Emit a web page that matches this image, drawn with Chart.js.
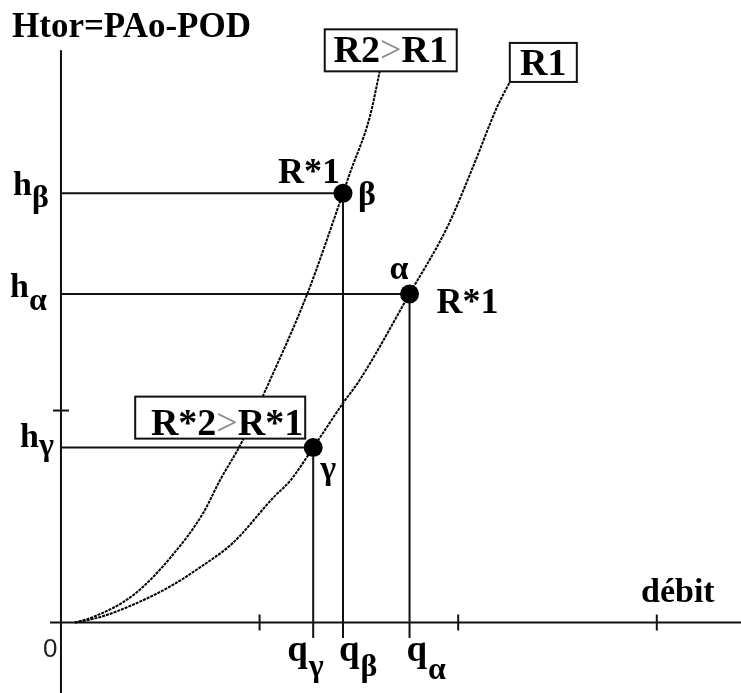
<!DOCTYPE html>
<html><head><meta charset="utf-8">
<script src="https://cdn.jsdelivr.net/npm/chart.js@4/dist/chart.umd.min.js"></script>
<style>html,body{margin:0;padding:0;background:#fff;}#c{display:block;}</style>
</head><body>
<canvas id="c" width="741" height="693"></canvas>
<script>
// ---- data (débit on x, Htor on y, arbitrary units) ----
const curveR1X = [0.14, 0.39, 0.73, 1.10, 1.40, 1.73, 2.14, 2.31, 2.54, 2.84, 3.01, 3.51, 3.89, 4.15, 4.39, 4.52];
const curveR1Y = [0.00, 0.05, 0.17, 0.34, 0.52, 0.75, 1.18, 1.34, 1.65, 2.07, 2.29, 3.10, 3.73, 4.30, 4.86, 5.10];
const curveR2X = [0.14, 0.32, 0.73, 1.10, 1.43, 1.60, 1.82, 2.03, 2.48, 2.84, 2.91, 3.11, 3.21];
const curveR2Y = [0.00, 0.05, 0.26, 0.61, 1.03, 1.34, 1.70, 2.13, 3.10, 4.05, 4.24, 4.77, 5.20];
const pointNames = ['α', 'β', 'γ'];
const pointQ = [3.51, 2.84, 2.54];
const pointH = [3.10, 4.05, 1.65];
const xTicks = [2, 4, 6];
const yTicks = [2];
const xRange = [-0.614, 6.848];
const yRange = [-0.665, 5.873];
const axisStart = [-0.11, 5.40];   // x-axis begins left of 0, y-axis top
const dropTo = -0.147;            // guide lines drop below axis

const pts = (xs, ys) => xs.map((x, i) => ({x, y: ys[i]}));
const ink = '#111';

const datasets = [];
// dots
datasets.push({type: 'scatter', data: pts(pointQ, pointH), pointRadius: 9.5, pointHoverRadius: 9.5,
  backgroundColor: '#000', borderWidth: 0, order: 0});
// guides
pointQ.forEach((q, i) => {
  datasets.push({type: 'line', data: [{x: 0, y: pointH[i]}, {x: q, y: pointH[i]}, {x: q, y: dropTo}],
    borderColor: ink, borderWidth: 2, pointRadius: 0, tension: 0, order: 2});
});
// curves
[[curveR1X, curveR1Y], [curveR2X, curveR2Y]].forEach(([xs, ys]) => {
  datasets.push({type: 'line', data: pts(xs, ys), borderColor: '#000', borderWidth: 2,
    borderDash: [3, 1], pointRadius: 0, cubicInterpolationMode: 'monotone', order: 3});
});
// axes
datasets.push({type: 'line', data: [{x: 0, y: axisStart[1]}, {x: 0, y: yRange[0]}],
  borderColor: ink, borderWidth: 2, pointRadius: 0, order: 4});
datasets.push({type: 'line', data: [{x: axisStart[0], y: 0}, {x: xRange[1], y: 0}],
  borderColor: ink, borderWidth: 2, pointRadius: 0, order: 4});

const SERIF = '"Liberation Serif", "Times New Roman", serif';

const labelPlugin = {
  id: 'labels',
  afterDatasetsDraw(chart) {
    const ctx = chart.ctx;
    const xs = chart.scales.x, ys = chart.scales.y;
    const X = v => xs.getPixelForValue(v), Y = v => ys.getPixelForValue(v);
    const x0 = X(0), y0 = Y(0);
    ctx.save();
    ctx.fillStyle = '#000';
    ctx.textBaseline = 'alphabetic';
    ctx.strokeStyle = ink;
    ctx.lineWidth = 2;
    // ticks
    xTicks.forEach(t => { ctx.beginPath(); ctx.moveTo(X(t), y0 - 8); ctx.lineTo(X(t), y0 + 8); ctx.stroke(); });
    yTicks.forEach(t => { ctx.beginPath(); ctx.moveTo(x0 - 8, Y(t)); ctx.lineTo(x0 + 8, Y(t)); ctx.stroke(); });

    const txt = (s, x, y, size, opts = {}) => {
      ctx.font = (opts.normal ? '' : 'bold ') + size + 'px ' + (opts.family || SERIF);
      ctx.fillStyle = opts.color || '#000';
      ctx.textAlign = opts.align || 'left';
      ctx.fillText(s, x, y);
      return ctx.measureText(s).width;
    };
    const run = (segs, x, y, size) => {
      let cx = x;
      segs.forEach(([s, grey]) => {
        cx += txt(s, cx, y, size, grey ? {normal: true, color: '#8a8a8a'} : {});
      });
      return cx - x;
    };
    const measureRun = (segs, size) => {
      let w = 0;
      segs.forEach(([s, grey]) => {
        ctx.font = (grey ? '' : 'bold ') + size + 'px ' + SERIF;
        w += ctx.measureText(s).width;
      });
      return w;
    };
    const box = (l, t, r, b) => {
      ctx.fillStyle = '#fff'; ctx.fillRect(l, t, r - l, b - t);
      ctx.strokeStyle = ink; ctx.lineWidth = 2; ctx.strokeRect(l, t, r - l, b - t);
    };

    // title
    txt('Htor=PAo-POD', 12, 37, 35);
    // x label
    txt('débit', 641, 602, 34);
    // origin
    txt('0', x0 - 18, y0 + 34, 26, {normal: true, family: '"Liberation Sans", Arial, sans-serif', color: '#222'});

    // y labels h_* and x labels q_*
    const hOff = {'α': [-51, 3, 13], 'β': [-48, 2, 12], 'γ': [-41, -1, 8]};
    const qOff = {'α': [-3, 18], 'β': [-4, 15], 'γ': [-26, 15]};
    pointNames.forEach((n, i) => {
      const py = Y(pointH[i]), px = X(pointQ[i]);
      const o = hOff[n];
      const w = txt('h', x0 + o[0], py + o[1], 34);
      txt(n, x0 + o[0] + w, py + o[1] + o[2], 32);
      const q = qOff[n];
      const wq = txt('q', px + q[0], y0 + 38, 37);
      txt(n, px + q[0] + wq + 1, y0 + 38 + q[1], 32);
    });

    // point annotations
    const pa = {x: X(pointQ[0]), y: Y(pointH[0])};
    const pb = {x: X(pointQ[1]), y: Y(pointH[1])};
    const pg = {x: X(pointQ[2]), y: Y(pointH[2])};
    txt('R*1', pb.x - 3, pb.y - 10, 36, {align: 'right'});
    txt('β', pb.x + 15, pb.y + 12, 34);
    txt('α', pa.x - 20, pa.y - 15, 34);
    txt('R*1', pa.x + 27, pa.y + 19, 36);
    txt('γ', pg.x + 7, pg.y + 31, 34);

    // box R*2>R*1
    const segsG = [['R*2'], ['>', true], ['R*1']];
    const wG = measureRun(segsG, 38);
    box(pg.x - 178, pg.y - 51, pg.x - 8, pg.y - 9);
    run(segsG, pg.x - 10 - wG, pg.y - 13, 38);

    // curve end boxes
    const e1 = {x: X(curveR1X[curveR1X.length - 1]), y: Y(curveR1Y[curveR1Y.length - 1])};
    const e2 = {x: X(curveR2X[curveR2X.length - 1]), y: Y(curveR2Y[curveR2Y.length - 1])};
    const segs2 = [['R2'], ['>', true], ['R1']];
    const w2 = measureRun(segs2, 38);
    box(e2.x - 55, e2.y - 42, e2.x + 77, e2.y);
    run(segs2, e2.x - 55 + (132 - w2) / 2, e2.y - 9, 38);
    const segs1 = [['R1']];
    const w1 = measureRun(segs1, 38);
    box(e1.x, e1.y - 39, e1.x + 67, e1.y);
    run(segs1, e1.x + (67 - w1) / 2, e1.y - 7, 38);
    ctx.restore();
  }
};

new Chart(document.getElementById('c'), {
  data: {datasets},
  options: {
    responsive: false, animation: false, devicePixelRatio: 1,
    layout: {padding: 0, autoPadding: false},
    plugins: {legend: {display: false}, tooltip: {enabled: false}, title: {display: false}},
    events: [],
    scales: {
      x: {type: 'linear', display: false, min: xRange[0], max: xRange[1]},
      y: {type: 'linear', display: false, min: yRange[0], max: yRange[1]}
    }
  },
  plugins: [labelPlugin]
});
</script>
</body></html>
